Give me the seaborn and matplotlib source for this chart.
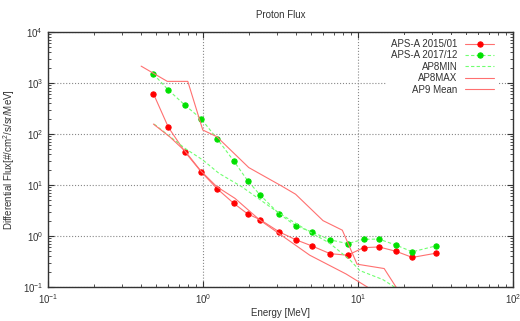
import numpy as np
import pandas as pd
import matplotlib
matplotlib.use("Agg")
import matplotlib.pyplot as plt
import seaborn as sns

# Data
energy = [0.48, 0.60, 0.77, 0.975, 1.24, 1.58, 1.95, 2.34, 3.12, 4.0, 5.05, 6.63, 8.6, 10.9, 13.7, 17.7, 22.5, 32.0]
flux_2015 = [620, 135, 44, 18.2, 8.4, 4.4, 2.7, 2.1, 1.2, 0.84, 0.64, 0.45, 0.42, 0.59, 0.61, 0.50, 0.38, 0.46]
flux_2017 = [1500, 730, 365, 200, 80, 30, 12.1, 6.4, 2.7, 1.57, 1.2, 0.84, 0.71, 0.86, 0.87, 0.66, 0.49, 0.64]

ap8min_e = [0.485, 0.77, 1.0, 1.27, 1.78, 3.06, 4.9, 6.6, 8.9, 10.3, 14.5, 17.6]
ap8min_f = [157, 52, 31, 17, 9.3, 2.9, 1.2, 0.72, 0.34, 0.21, 0.14, 0.096]

ap8max_e = [0.40, 0.59, 0.80, 1.0, 1.23, 1.98, 3.2, 3.97, 5.97, 7.95, 9.9, 14.8, 17.8]
ap8max_f = [2150, 1080, 1080, 120, 89, 22, 9.7, 6.6, 2.0, 1.3, 0.28, 0.23, 0.096]

ap9_e = [0.48, 0.61, 0.77, 0.97, 1.23, 1.61, 2.33, 4.9, 8.4, 11.9]
ap9_f = [157, 89, 46, 19, 9.3, 5.5, 2.06, 0.42, 0.18, 0.094]

sns.set_style("ticks")
plt.rcParams['font.family'] = ['Liberation Sans', 'DejaVu Sans']
plt.rcParams['mathtext.fontset'] = 'custom'
plt.rcParams['mathtext.rm'] = 'Liberation Sans'
plt.rcParams['mathtext.it'] = 'Liberation Sans:italic'
plt.rcParams['mathtext.bf'] = 'Liberation Sans:bold'

fig = plt.figure(figsize=(5.2, 3.21), dpi=100)
ax = fig.add_axes([0.092, 0.106, 0.894, 0.794])

red = '#ff0000'
green = '#00e000'
lred = '#ff7070'

sns.lineplot(x=energy, y=flux_2015, ax=ax, color=lred, lw=0.8, sort=False,
             estimator=None, label='APS-A 2015/01', marker='o', markersize=3.8,
             markerfacecolor=red, markeredgecolor=red)
sns.lineplot(x=energy, y=flux_2017, ax=ax, color='#70ff70', lw=0.8, sort=False,
             estimator=None, label='APS-A 2017/12', marker='o', markersize=3.8,
             markerfacecolor=green, markeredgecolor=green, linestyle=(0, (3, 2)))
sns.lineplot(x=ap8min_e, y=ap8min_f, ax=ax, color='#70ff70', lw=0.8, sort=False,
             estimator=None, label='AP8MIN', linestyle=(0, (3, 2)))
sns.lineplot(x=ap8max_e, y=ap8max_f, ax=ax, color=lred, lw=0.8, sort=False,
             estimator=None, label='AP8MAX')
sns.lineplot(x=ap9_e, y=ap9_f, ax=ax, color=lred, lw=0.8, sort=False,
             estimator=None, label='AP9 Mean')

ax.set_xscale('log')
ax.set_yscale('log')
ax.set_xlim(0.1, 100)
ax.set_ylim(0.1, 1e4)
ax.grid(True, which='major', color='#888888', linestyle=':', lw=0.8)
ax.tick_params(which='both', direction='in', top=True, right=True, labelsize=7, colors='#333333')
ax.tick_params(which='major', length=4)
ax.tick_params(which='minor', length=2)
for s in ax.spines.values():
    s.set_linewidth(1.0)
    s.set_color('#333333')

ax.set_title('Proton Flux', fontsize=7, color='#333333', pad=10)
ax.set_xlabel('Energy [MeV]', fontsize=7, color='#333333', labelpad=2)
ax.set_ylabel('Differential Flux[#/cm$^2$/s/sr/MeV]', fontsize=7, color='#333333')

leg = ax.legend(loc='upper right', fontsize=7, markerfirst=False, frameon=True,
                facecolor='white', edgecolor='none', framealpha=1, fancybox=False,
                handlelength=3.0, labelspacing=0.15, borderaxespad=0.3,
                bbox_to_anchor=(0.975, 1.0))
for t in leg.get_texts():
    t.set_ha('right')
    t.set_color('#333333')
leg._legend_box.align = 'right'

fig.savefig('out.png', dpi=100)
